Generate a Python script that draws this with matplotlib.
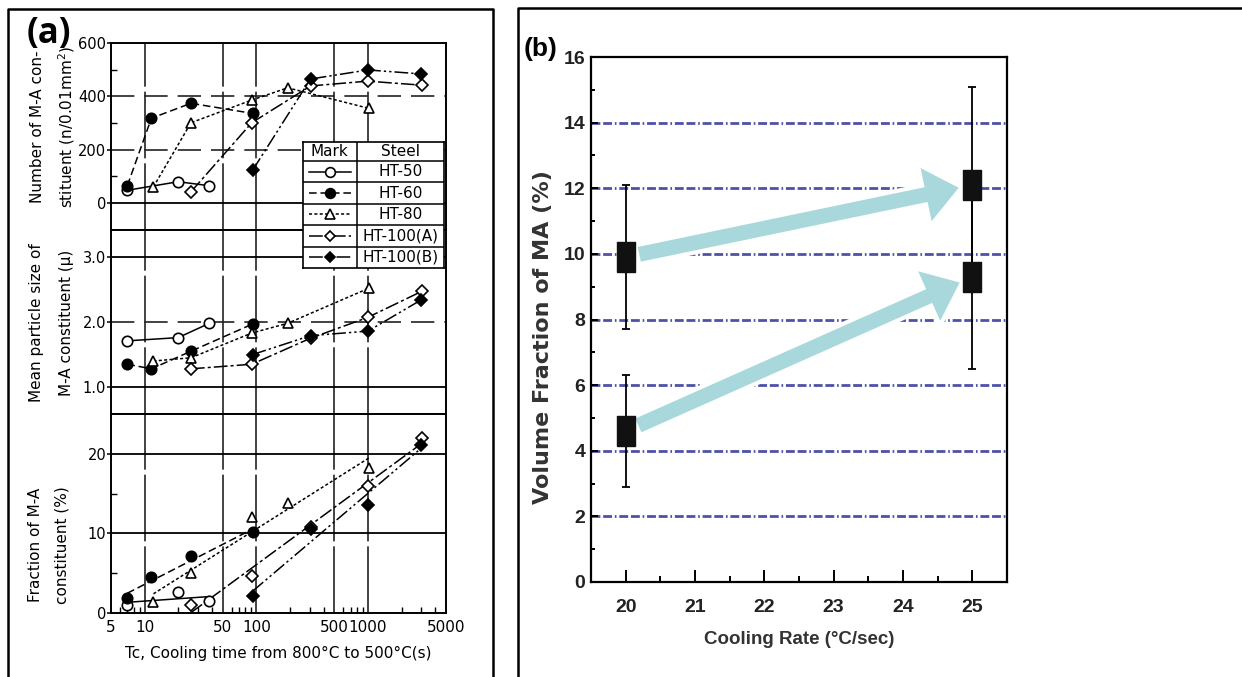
import numpy as np
import matplotlib
matplotlib.use('Agg')
import matplotlib.pyplot as plt
from matplotlib import patheffects as pe
from matplotlib.lines import Line2D
from matplotlib.ticker import FixedLocator, NullFormatter, NullLocator

W, H = 1242, 677

# ---------- (a) values ----------
steels = ['HT-50', 'HT-60', 'HT-80', 'HT-100(A)', 'HT-100(B)']

# cooling time Tc (s) of the tested specimens
tc = {'HT-50': [7, 20, 38],
      'HT-60': [7, 11.5, 26, 93],
      'HT-80': [12, 26, 91, 191, 1020],
      'HT-100(A)': [26, 91, 306, 993, 3020],
      'HT-100(B)': [93, 306, 1000, 3000]}

# number of M-A constituent (n/0.01mm2)
number = {'HT-50': [48, 80, 65],
          'HT-60': [65, 318, 374, 336],
          'HT-80': [61, 301, 386, 432, 355],
          'HT-100(A)': [42, 301, 439, 457, 442],
          'HT-100(B)': [124, 465, 499, 484]}

# mean particle size of M-A constituent (micron)
size = {'HT-50': [1.71, 1.76, 1.98],
        'HT-60': [1.35, 1.28, 1.55, 1.97],
        'HT-80': [1.40, 1.45, 1.83, 1.98, 2.52],
        'HT-100(A)': [1.28, 1.35, 1.75, 2.07, 2.47],
        'HT-100(B)': [1.50, 1.79, 1.86, 2.34]}

# fraction of M-A constituent (%)
fraction = {'HT-50': [1.0, 2.7, 1.5],
            'HT-60': [1.85, 4.5, 7.1, 10.2],
            'HT-80': [1.4, 5.0, 12.1, 13.8, 18.2],
            'HT-100(A)': [1.0, 4.65, 10.8, 15.9, 22.0],
            'HT-100(B)': [2.1, 10.6, 13.6, 21.1]}

tc_ticks = [5, 10, 50, 100, 500, 1000, 5000]

# ---------- (b) values ----------
rate = [20, 25]
ma_high = [9.9, 12.1]
ma_high_err = [2.2, 3.0]
ma_low = [4.6, 9.3]
ma_low_err = [1.7, 2.8]

# marker / line style per steel
style = {'HT-50': dict(marker='o', mfc='white', ls='-'),
         'HT-60': dict(marker='o', mfc='black', ls=(0, (5, 2.5))),
         'HT-80': dict(marker='^', mfc='white', ls=(0, (2, 1.5))),
         'HT-100(A)': dict(marker='D', mfc='white', ls=(0, (9, 2, 2, 2))),
         'HT-100(B)': dict(marker='D', mfc='black', ls=(0, (9, 2, 1.5, 2, 1.5, 2)))}
msize = {'o': 7.5, '^': 7.5, 'D': 6}

plt.rcParams['font.family'] = ['DejaVu Sans']

fig = plt.figure(figsize=(W / 100, H / 100), dpi=100)


def rect(x0, y0, x1, y1):
    return [x0 / W, 1 - y1 / H, (x1 - x0) / W, (y1 - y0) / H]


# panel frames
fig.add_artist(Line2D([8 / W, 8 / W, 493 / W, 493 / W], [0, 1 - 9 / H, 1 - 9 / H, 0],
                      color='black', lw=1.8))
fig.add_artist(Line2D([518 / W, 518 / W, 1.0], [0, 1 - 8 / H, 1 - 8 / H],
                      color='black', lw=1.8))

ax_n = fig.add_axes(rect(111, 43, 446, 230))
ax_s = fig.add_axes(rect(111, 230, 446, 414))
ax_f = fig.add_axes(rect(111, 414, 446, 613))

for ax in (ax_n, ax_s, ax_f):
    ax.set_xscale('log')
    ax.set_xlim(5, 5000)
    for sp in ax.spines.values():
        sp.set_linewidth(1.4)
    for v in [10, 50, 100, 500, 1000]:
        ax.axvline(v, color='#222222', lw=1.2, ls=(0, (40, 3)), zorder=1)
    ax.tick_params(axis='y', which='major', direction='out', length=3, width=1.1,
                   labelsize=10.5, pad=0.5)
    ax.tick_params(axis='y', which='minor', direction='in', length=4, width=1)
    ax.tick_params(axis='x', which='both', direction='in', width=1)

for ax in (ax_n, ax_s):
    ax.xaxis.set_major_locator(NullLocator())
    ax.xaxis.set_minor_locator(NullLocator())

ax_f.xaxis.set_major_locator(FixedLocator(tc_ticks))
ax_f.set_xticklabels([str(t) for t in tc_ticks])
ax_f.xaxis.set_minor_formatter(NullFormatter())
ax_f.tick_params(axis='x', which='major', length=0, labelsize=11, pad=5)
ax_f.tick_params(axis='x', which='minor', length=4)

# number of particles
ax_n.set_ylim(-101, 600)
ax_n.set_yticks([0, 200, 400, 600])
ax_n.yaxis.set_minor_locator(FixedLocator([100, 300, 500]))
ax_n.axhline(0, color='black', lw=1.3)
for v in [200, 400]:
    ax_n.axhline(v, color='#222222', lw=1.2, ls=(0, (14, 6)), zorder=1)

# particle size
ax_s.set_ylim(0.585, 3.415)
ax_s.set_yticks([1, 2, 3])
ax_s.set_yticklabels(['1.0', '2.0', '3.0'])
ax_s.axhline(3, color='black', lw=1.3)
ax_s.axhline(1, color='black', lw=1.3)
ax_s.axhline(2, color='#222222', lw=1.2, ls=(0, (14, 6)), zorder=1)

# fraction
ax_f.set_ylim(0, 25)
ax_f.set_yticks([0, 10, 20])
ax_f.yaxis.set_minor_locator(FixedLocator([5, 15]))
for v in [10, 20]:
    ax_f.axhline(v, color='black', lw=1.3, zorder=1)

for s in steels:
    st = style[s]
    kw = dict(marker=st['marker'], mfc=st['mfc'], mec='black', mew=1.2,
              ms=msize[st['marker']], color='black', lw=1.1, zorder=4)
    ax_n.plot(tc[s], number[s], ls=st['ls'], **kw)
    ax_s.plot(tc[s], size[s], ls=st['ls'], **kw)
    # straight regression lines on the log axis for the fraction panel
    t = np.array(tc[s])
    k, b = np.polyfit(np.log10(t), fraction[s], 1)
    tt = np.array([t.min(), t.max()])
    ax_f.plot(tt, k * np.log10(tt) + b, color='black', lw=1.1, ls=st['ls'], zorder=3)
    ax_f.plot(tc[s], fraction[s], ls='none', **kw)

ax_f.set_xlabel('Tc, Cooling time from 800°C to 500°C(s)', fontsize=11, labelpad=8)

ylab = dict(rotation=90, ha='center', va='center', fontsize=11)
fig.text(38 / W, 1 - 127 / H, 'Number of M-A con-', **ylab)
fig.text(67 / W, 1 - 127 / H, 'stituent (n/0.01mm$^2$)', **ylab)
fig.text(37 / W, 1 - 323 / H, 'Mean particle size of', **ylab)
fig.text(66 / W, 1 - 323 / H, 'M-A constituent (μ)', **ylab)
fig.text(35 / W, 1 - 545 / H, 'Fraction of M-A', **ylab)
fig.text(62 / W, 1 - 545 / H, 'constituent (%)', **ylab)

fig.text(27 / W, 1 - 34 / H, '(a)', fontsize=25, fontweight='bold', family='Open Sans',
         ha='left', va='center')

# legend table
lg = fig.add_axes(rect(303, 142, 444, 268), zorder=10)
lg.set_xlim(0, 1)
lg.set_ylim(0, 1)
lg.set_xticks([])
lg.set_yticks([])
for sp in lg.spines.values():
    sp.set_linewidth(1.2)
head = 1 - 19 / 126
row_h = head / len(steels)
lg.axvline(0.383, color='black', lw=1.1)
lg.axhline(head, color='black', lw=1.1)
lg.text(0.19, (1 + head) / 2, 'Mark', ha='center', va='center', fontsize=11)
lg.text(0.69, (1 + head) / 2, 'Steel', ha='center', va='center', fontsize=11)
for i, s in enumerate(steels):
    yc = head - (i + 0.5) * row_h
    if i > 0:
        lg.axhline(head - i * row_h, color='black', lw=1.1)
    st = style[s]
    lg.plot([0.04, 0.34], [yc, yc], color='black', lw=1.1, ls=st['ls'])
    lg.plot([0.19], [yc], marker=st['marker'], mfc=st['mfc'], mec='black', mew=1.2,
            ms=msize[st['marker']] - 0.5, ls='none')
    lg.text(0.69, yc, s, ha='center', va='center', fontsize=11)

# ---------- (b) ----------
bfont = ['Liberation Sans', 'DejaVu Sans']
axb = fig.add_axes(rect(591, 57, 1007, 582))
axb.set_xlim(19.5, 25.5)
axb.set_ylim(0, 16)
for sp in axb.spines.values():
    sp.set_linewidth(1.6)
axb.set_xticks(range(20, 26))
axb.set_xticks(np.arange(20.5, 25.5, 1), minor=True)
axb.set_yticks(range(0, 17, 2))
axb.set_yticks(range(1, 16, 2), minor=True)
axb.tick_params(axis='x', which='major', direction='in', length=9, width=1.4, pad=12)
axb.tick_params(axis='x', which='minor', direction='in', length=4.5, width=1.4)
axb.tick_params(axis='y', which='major', direction='in', length=5, width=1.4, pad=4)
axb.tick_params(axis='y', which='minor', direction='in', length=3, width=1.4)
for lab in axb.get_xticklabels() + axb.get_yticklabels():
    lab.set_family(bfont)
    lab.set_fontweight('bold')
    lab.set_fontsize(14)
    lab.set_color('#222222')

for v in range(2, 15, 2):
    axb.axhline(v, color='#4d52a8', lw=2.0, ls=(0, (3.2, 1.0, 3.2, 1.0, 0.6, 1.0)), zorder=1)

arrow_kw = dict(arrowstyle='simple,tail_width=1.08,head_width=3.9,head_length=2.4',
                mutation_scale=10, color='#a9d8dc', lw=0, shrinkA=10, shrinkB=10,
                path_effects=[pe.withStroke(linewidth=6, foreground='white')])
axb.annotate('', xy=(rate[1], ma_high[1]), xytext=(rate[0], ma_high[0]),
             arrowprops=arrow_kw, zorder=3)
axb.annotate('', xy=(rate[1], ma_low[1]), xytext=(rate[0], ma_low[0]),
             arrowprops=arrow_kw, zorder=3)

box_marker = [(-0.6, -1), (0.6, -1), (0.6, 1), (-0.6, 1), (-0.6, -1)]
for y, e in ((ma_high, ma_high_err), (ma_low, ma_low_err)):
    axb.errorbar(rate, y, yerr=e, fmt='none', ecolor='black', elinewidth=1.3,
                 capsize=3, capthick=1.3, zorder=4)
    axb.plot(rate, y, ls='none', marker=box_marker, ms=21.5, mfc='#111111',
             mec='#111111', zorder=5)

axb.set_xlabel('Cooling Rate (°C/sec)', family=bfont, fontweight='bold', fontsize=13.5,
               color='#333333', labelpad=11)
fig.text(543 / W, 1 - 337 / H, 'Volume Fraction of MA (%)', rotation=90, ha='center',
         va='center', family='DejaVu Sans', fontweight='bold', fontsize=16,
         color='#333333')
fig.text(524 / W, 1 - 49 / H, '(b)', fontsize=19, fontweight='bold',
         family=bfont, ha='left', va='center')

fig.savefig('out.png', dpi=100)
